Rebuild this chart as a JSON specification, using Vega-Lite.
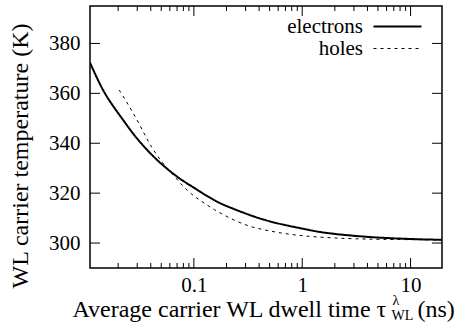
{
  "$schema": "https://vega.github.io/schema/vega-lite/v6.json",
  "width": 352,
  "height": 262,
  "autosize": "none",
  "padding": {"left": 90, "top": 6, "right": 16, "bottom": 58},
  "background": "white",
  "config": {
    "view": {"stroke": "black", "strokeWidth": 1.5},
    "axis": {"grid": false, "domain": false, "ticks": false, "labelColor": "black", "titleColor": "black", "titleFontWeight": "normal", "labelFontSize": 21, "titleFontSize": 24, "labelFont": "Liberation Serif", "titleFont": "Liberation Serif", "labels": false, "title": null}
  },
  "datasets": {
    "curves": [
      {"carrier": "electrons", "tau": 0.011, "T": 372.3},
      {"carrier": "electrons", "tau": 0.013, "T": 365.3},
      {"carrier": "electrons", "tau": 0.015, "T": 360.0},
      {"carrier": "electrons", "tau": 0.018, "T": 354.8},
      {"carrier": "electrons", "tau": 0.022, "T": 349.6},
      {"carrier": "electrons", "tau": 0.027, "T": 344.2},
      {"carrier": "electrons", "tau": 0.0325, "T": 340.0},
      {"carrier": "electrons", "tau": 0.04, "T": 335.7},
      {"carrier": "electrons", "tau": 0.05, "T": 331.7},
      {"carrier": "electrons", "tau": 0.065, "T": 327.6},
      {"carrier": "electrons", "tau": 0.08, "T": 324.8},
      {"carrier": "electrons", "tau": 0.1, "T": 322.2},
      {"carrier": "electrons", "tau": 0.13, "T": 319.0},
      {"carrier": "electrons", "tau": 0.17, "T": 316.1},
      {"carrier": "electrons", "tau": 0.22, "T": 314.1},
      {"carrier": "electrons", "tau": 0.3, "T": 311.8},
      {"carrier": "electrons", "tau": 0.4, "T": 309.9},
      {"carrier": "electrons", "tau": 0.55, "T": 308.2},
      {"carrier": "electrons", "tau": 0.75, "T": 306.9},
      {"carrier": "electrons", "tau": 1.0, "T": 305.8},
      {"carrier": "electrons", "tau": 1.4, "T": 304.5},
      {"carrier": "electrons", "tau": 2.0, "T": 303.6},
      {"carrier": "electrons", "tau": 3.0, "T": 302.9},
      {"carrier": "electrons", "tau": 4.0, "T": 302.45},
      {"carrier": "electrons", "tau": 6.0, "T": 302.0},
      {"carrier": "electrons", "tau": 9.0, "T": 301.7},
      {"carrier": "electrons", "tau": 13.0, "T": 301.45},
      {"carrier": "electrons", "tau": 19.5, "T": 301.3},
      {"carrier": "holes", "tau": 0.0205, "T": 361.3},
      {"carrier": "holes", "tau": 0.024, "T": 356.5},
      {"carrier": "holes", "tau": 0.0274, "T": 352.3},
      {"carrier": "holes", "tau": 0.032, "T": 347.0},
      {"carrier": "holes", "tau": 0.0363, "T": 342.3},
      {"carrier": "holes", "tau": 0.0393, "T": 339.6},
      {"carrier": "holes", "tau": 0.0486, "T": 333.2},
      {"carrier": "holes", "tau": 0.0622, "T": 328.2},
      {"carrier": "holes", "tau": 0.0797, "T": 322.6},
      {"carrier": "holes", "tau": 0.095, "T": 319.6},
      {"carrier": "holes", "tau": 0.1095, "T": 317.6},
      {"carrier": "holes", "tau": 0.13, "T": 315.5},
      {"carrier": "holes", "tau": 0.151, "T": 313.6},
      {"carrier": "holes", "tau": 0.2, "T": 310.6},
      {"carrier": "holes", "tau": 0.306, "T": 306.9},
      {"carrier": "holes", "tau": 0.45, "T": 305.2},
      {"carrier": "holes", "tau": 0.62, "T": 304.1},
      {"carrier": "holes", "tau": 0.9, "T": 303.1},
      {"carrier": "holes", "tau": 1.3, "T": 302.5},
      {"carrier": "holes", "tau": 2.0, "T": 302.0},
      {"carrier": "holes", "tau": 3.0, "T": 301.7},
      {"carrier": "holes", "tau": 5.0, "T": 301.5},
      {"carrier": "holes", "tau": 10.0, "T": 301.35},
      {"carrier": "holes", "tau": 19.5, "T": 301.25}
    ],
    "xmajor": [{"t": 0.1}, {"t": 1}, {"t": 10}],
    "xminor": [{"t": 0.02}, {"t": 0.03}, {"t": 0.04}, {"t": 0.05}, {"t": 0.06}, {"t": 0.07}, {"t": 0.08}, {"t": 0.09}, {"t": 0.2}, {"t": 0.3}, {"t": 0.4}, {"t": 0.5}, {"t": 0.6}, {"t": 0.7}, {"t": 0.8}, {"t": 0.9}, {"t": 2}, {"t": 3}, {"t": 4}, {"t": 5}, {"t": 6}, {"t": 7}, {"t": 8}, {"t": 9}],
    "ymajor": [{"v": 300}, {"v": 320}, {"v": 340}, {"v": 360}, {"v": 380}]
  },
  "resolve": {"axis": {"x": "independent", "y": "independent"}},
  "layer": [
    {
      "data": {"name": "curves"},
      "mark": {"type": "line", "interpolate": "basis", "stroke": "black", "clip": true},
      "encoding": {
        "x": {"field": "tau", "type": "quantitative",
          "scale": {"type": "log", "domain": [0.011, 19.5], "nice": false},
          "axis": {"orient": "bottom", "values": [0.1, 1, 10], "format": "~g", "labels": true, "labelPadding": 6,
            "title": "Average carrier WL dwell time τ", "titleX": -18, "titleY": 48.7, "titleAlign": "left", "titleBaseline": "alphabetic", "titleAnchor": null}},
        "y": {"field": "T", "type": "quantitative",
          "scale": {"domain": [290, 395], "nice": false, "zero": false},
          "axis": {"orient": "left", "values": [300, 320, 340, 360, 380], "labels": true, "labelPadding": 10,
            "title": "WL carrier temperature (K)", "titleAngle": 270, "titleX": -62.5, "titleY": 149.5, "titleAlign": "center", "titleBaseline": "alphabetic"}},
        "strokeDash": {"field": "carrier", "type": "nominal",
          "scale": {"domain": ["electrons", "holes"], "range": [[1, 0], [3, 4]]},
          "legend": {"title": null, "orient": "none", "legendX": 297, "legendY": 10, "padding": 0,
            "symbolType": "M-8,0H8", "symbolSize": 36, "symbolStrokeColor": "black",
            "labelFont": "Liberation Serif", "labelFontSize": 21, "labelColor": "black", "labelAlign": "right", "labelOffset": -45, "rowPadding": 0,
            "encode": {"symbols": {"update": {"strokeWidth": {"signal": "datum.label === 'electrons' ? 2 : 1"}}}}}},
        "strokeWidth": {"field": "carrier", "type": "ordinal", "scale": {"domain": ["electrons", "holes"], "range": [2, 1]}, "legend": null}
      }
    },
    {
      "data": {"name": "xmajor"},
      "mark": {"type": "tick", "orient": "vertical", "color": "black", "opacity": 1, "size": 20, "thickness": 1, "clip": true},
      "encoding": {
        "x": {"field": "t", "type": "quantitative", "scale": {"type": "log", "domain": [0.011, 19.5], "nice": false},
          "axis": {"orient": "bottom", "title": "λ", "titleFontSize": 14, "titleX": 302, "titleY": 36, "titleAlign": "left", "titleBaseline": "alphabetic", "titleAnchor": null}},
        "y": {"datum": 290, "type": "quantitative", "scale": {"domain": [290, 395], "nice": false, "zero": false}, "axis": null}
      }
    },
    {
      "data": {"name": "xmajor"},
      "mark": {"type": "tick", "orient": "vertical", "color": "black", "opacity": 1, "size": 20, "thickness": 1, "clip": true},
      "encoding": {
        "x": {"field": "t", "type": "quantitative", "scale": {"type": "log", "domain": [0.011, 19.5], "nice": false},
          "axis": {"orient": "bottom", "title": "WL", "titleFontSize": 14, "titleX": 301, "titleY": 51, "titleAlign": "left", "titleBaseline": "alphabetic", "titleAnchor": null}},
        "y": {"datum": 395, "type": "quantitative", "scale": {"domain": [290, 395], "nice": false, "zero": false}, "axis": null}
      }
    },
    {
      "data": {"name": "xminor"},
      "mark": {"type": "tick", "orient": "vertical", "color": "black", "opacity": 1, "size": 10, "thickness": 1, "clip": true},
      "encoding": {
        "x": {"field": "t", "type": "quantitative", "scale": {"type": "log", "domain": [0.011, 19.5], "nice": false},
          "axis": {"orient": "bottom", "title": "(ns)", "titleFontSize": 24, "titleX": 327, "titleY": 48.7, "titleAlign": "left", "titleBaseline": "alphabetic", "titleAnchor": null}},
        "y": {"datum": 290, "type": "quantitative", "scale": {"domain": [290, 395], "nice": false, "zero": false}, "axis": null}
      }
    },
    {
      "data": {"name": "xminor"},
      "mark": {"type": "tick", "orient": "vertical", "color": "black", "opacity": 1, "size": 10, "thickness": 1, "clip": true},
      "encoding": {
        "x": {"field": "t", "type": "quantitative", "scale": {"type": "log", "domain": [0.011, 19.5], "nice": false}, "axis": null},
        "y": {"datum": 395, "type": "quantitative", "scale": {"domain": [290, 395], "nice": false, "zero": false}, "axis": null}
      }
    },
    {
      "data": {"name": "ymajor"},
      "mark": {"type": "tick", "orient": "horizontal", "color": "black", "opacity": 1, "size": 20, "thickness": 1, "clip": true},
      "encoding": {
        "x": {"datum": 0.011, "type": "quantitative", "scale": {"type": "log", "domain": [0.011, 19.5], "nice": false}, "axis": null},
        "y": {"field": "v", "type": "quantitative", "scale": {"domain": [290, 395], "nice": false, "zero": false}, "axis": null}
      }
    },
    {
      "data": {"name": "ymajor"},
      "mark": {"type": "tick", "orient": "horizontal", "color": "black", "opacity": 1, "size": 20, "thickness": 1, "clip": true},
      "encoding": {
        "x": {"datum": 19.5, "type": "quantitative", "scale": {"type": "log", "domain": [0.011, 19.5], "nice": false}, "axis": null},
        "y": {"field": "v", "type": "quantitative", "scale": {"domain": [290, 395], "nice": false, "zero": false}, "axis": null}
      }
    }
  ]
}
